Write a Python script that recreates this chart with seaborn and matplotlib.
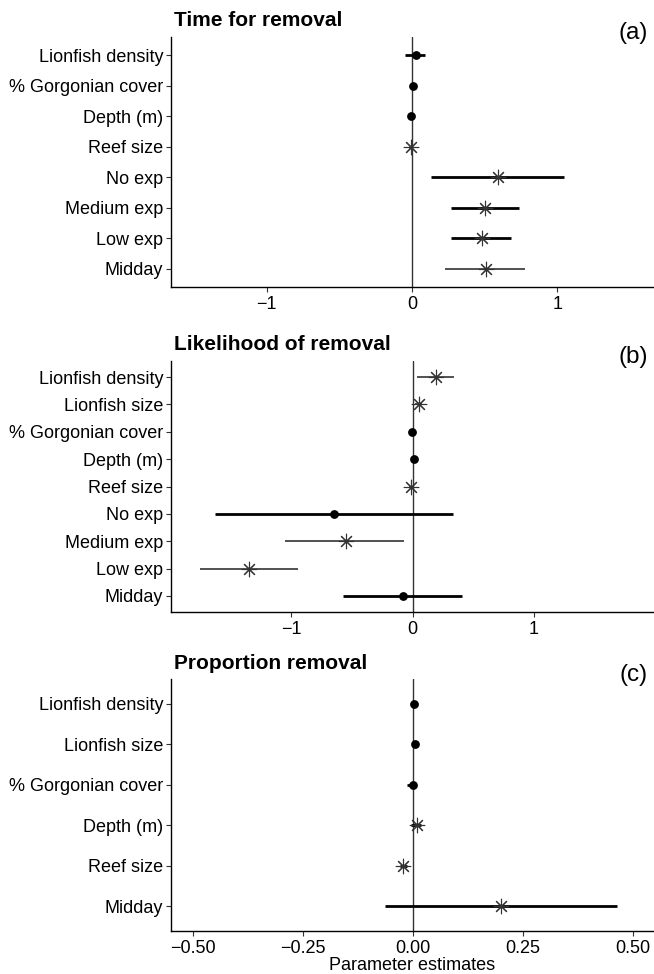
import matplotlib
matplotlib.use("Agg")
import matplotlib.pyplot as plt
import seaborn as sns
import pandas as pd

sns.set_theme(style="white")
plt.rcParams['font.family'] = ['Liberation Sans', 'DejaVu Sans']

# ---------------- data ----------------
terms_a = ["Lionfish density", "% Gorgonian cover", "Depth (m)", "Reef size",
           "No exp", "Medium exp", "Low exp", "Midday"]
est_a = [0.025, 0.005, -0.005, -0.01, 0.59, 0.50, 0.48, 0.51]
lo_a = [-0.045, -0.005, -0.01, -0.02, 0.13, 0.27, 0.27, 0.23]
hi_a = [0.09, 0.015, 0.0, 0.0, 1.05, 0.74, 0.68, 0.78]
shape_a = ["circle", "circle", "circle", "star", "star", "star", "star", "star"]

terms_b = ["Lionfish density", "Lionfish size", "% Gorgonian cover", "Depth (m)",
           "Reef size", "No exp", "Medium exp", "Low exp", "Midday"]
est_b = [0.19, 0.05, -0.005, 0.013, -0.01, -0.65, -0.55, -1.35, -0.08]
lo_b = [0.035, 0.02, -0.015, 0.0, -0.03, -1.63, -1.05, -1.75, -0.57]
hi_b = [0.345, 0.08, 0.005, 0.025, 0.01, 0.33, -0.07, -0.94, 0.41]
shape_b = ["star", "star", "circle", "circle", "star", "circle", "star", "star", "circle"]

terms_c = ["Lionfish density", "Lionfish size", "% Gorgonian cover", "Depth (m)",
           "Reef size", "Midday"]
est_c = [0.002, 0.004, 0.0, 0.008, -0.022, 0.20]
lo_c = [-0.002, 0.0, -0.014, -0.004, -0.03, -0.063]
hi_c = [0.006, 0.008, 0.006, 0.018, -0.014, 0.464]
shape_c = ["circle", "circle", "circle", "star", "star", "star"]

titles = ["Time for removal", "Likelihood of removal", "Proportion removal"]
letters = ["(a)", "(b)", "(c)"]
xticks_a = [-1, 0, 1]
xticks_b = [-1, 0, 1]
xticks_c = [-0.50, -0.25, 0.00, 0.25, 0.50]
xticklabels_a = ["\u22121", "0", "1"]
xticklabels_b = ["\u22121", "0", "1"]
xticklabels_c = ["\u22120.50", "\u22120.25", "0.00", "0.25", "0.50"]
xlabel = "Parameter estimates"

# ---------------- style (not data) ----------------
lw_a = [2.0, 2.0, 2.0, 2.0, 2.0, 2.0, 2.0, 1.2]
lw_b = [1.2, 1.2, 2.0, 2.0, 1.2, 2.0, 1.2, 1.2, 2.0]
lw_c = [2.0, 2.0, 2.0, 2.0, 2.0, 2.0]
xlims = [(-1.66, 1.66), (-1.99, 1.98), (-0.55, 0.545)]

panels = [
    (terms_a, est_a, lo_a, hi_a, shape_a, lw_a, xticks_a, xticklabels_a),
    (terms_b, est_b, lo_b, hi_b, shape_b, lw_b, xticks_b, xticklabels_b),
    (terms_c, est_c, lo_c, hi_c, shape_c, lw_c, xticks_c, xticklabels_c),
]

W, H = 654, 974
fig = plt.figure(figsize=(W / 100, H / 100), dpi=100)
boxes = [(36.7, 287.3), (360.7, 612.3), (679.3, 930.7)]
left_px, right_px = 171, 653

for i, (terms, est, lo, hi, shape, lws, xt, xtl) in enumerate(panels):
    top, bot = boxes[i]
    ax = fig.add_axes([left_px / W, 1 - bot / H, (right_px - left_px) / W, (bot - top) / H])
    n = len(terms)
    df = pd.DataFrame({"term": terms, "est": est, "lo": lo, "hi": hi, "shape": shape})
    df["pos"] = [n - 1 - k for k in range(n)]

    ax.axvline(0, color="#333333", lw=1.0, zorder=1)
    for k, row in df.iterrows():
        ax.hlines(row["pos"], row["lo"], row["hi"],
                  color="black" if lws[k] > 1.5 else "#333333",
                  lw=lws[k], zorder=2)

    circ = df[df["shape"] == "circle"]
    star = df[df["shape"] == "star"]
    sns.scatterplot(data=circ, x="est", y="pos", ax=ax, marker="o", s=40,
                    color="black", edgecolor="black", linewidth=0, zorder=3)
    sns.scatterplot(data=star, x="est", y="pos", ax=ax, marker=(8, 2, 0), s=110,
                    color="#333333", edgecolor="#333333", linewidth=0.8, zorder=3)

    ax.set_xlim(*xlims[i])
    ax.set_ylim(-0.6, n - 1 + 0.6)
    ax.set_yticks(df["pos"])
    ax.set_yticklabels(df["term"], fontsize=13, color="black")
    ax.set_xticks(xt)
    ax.set_xticklabels(xtl, fontsize=13, color="black")
    ax.tick_params(axis="both", which="major", length=3.5, width=0.8,
                   color="#333333", left=True, bottom=True, pad=2)
    ax.tick_params(axis="x", pad=3)
    ax.set_ylabel("")
    ax.set_xlabel(xlabel if i == 2 else "", fontsize=13, color="black", labelpad=0)
    for s in ["top", "right"]:
        ax.spines[s].set_visible(False)
    for s in ["left", "bottom"]:
        ax.spines[s].set_visible(True)
        ax.spines[s].set_color("black")
        ax.spines[s].set_linewidth(1.0)
    ax.grid(False)

    fig.text(174 / W, 1 - (top - 16) / H, titles[i], fontsize=15, fontweight="bold",
             ha="left", va="center", color="black")
    fig.text(648 / W, 1 - (top - 4) / H, letters[i], fontsize=17.5,
             ha="right", va="center", color="black")

fig.savefig("out.png", dpi=100)
